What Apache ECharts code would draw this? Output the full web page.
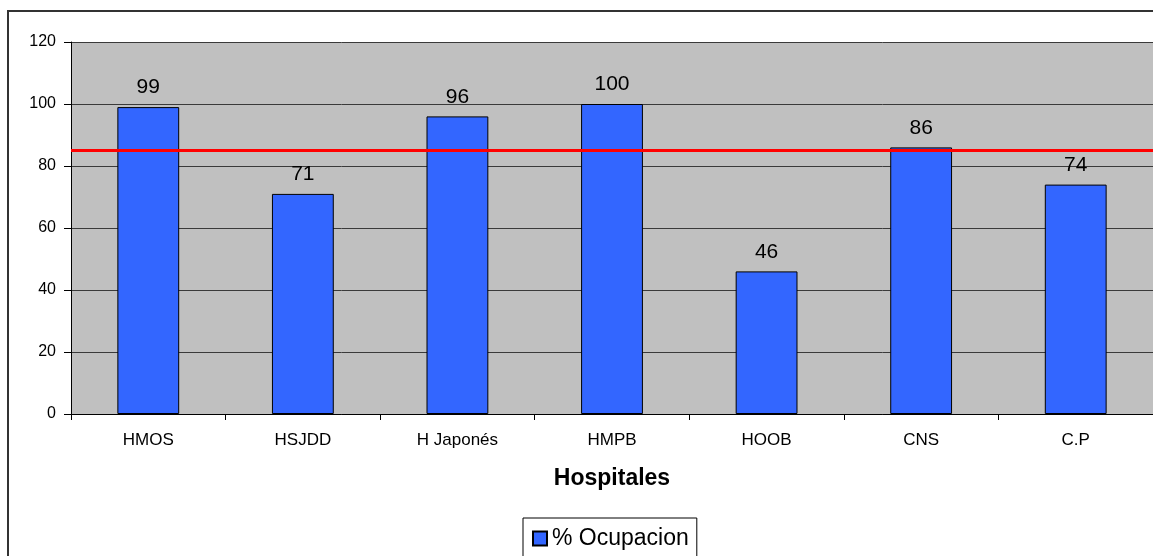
<!DOCTYPE html>
<html>
<head>
<meta charset="utf-8">
<script src="https://cdn.jsdelivr.net/npm/echarts@6/dist/echarts.min.js"></script>
<style>html,body{margin:0;padding:0;background:#fff;}#c{width:1153px;height:556px;}</style>
</head>
<body>
<div id="c"></div>
<script>
const categories = ['HMOS', 'HSJDD', 'H Japonés', 'HMPB', 'HOOB', 'CNS', 'C.P'];
const ocupacion = [99, 71, 96, 100, 46, 86, 74];
const referencia = 85;
const yTicks = [0, 20, 40, 60, 80, 100, 120];

const FONT = 'Liberation Sans, Arial, sans-serif';
const chart = echarts.init(document.getElementById('c'));
chart.setOption({
  animation: false,
  backgroundColor: '#fff',
  graphic: [{
    type: 'rect', z: -10,
    shape: { x: 8, y: 11, width: 1200, height: 600 },
    style: { fill: '#fff', stroke: '#333', lineWidth: 2 }
  }],
  grid: {
    left: 71, top: 42, width: 1087, height: 372,
    show: true, backgroundColor: '#c0c0c0', borderWidth: 0
  },
  legend: {
    top: 518, left: 523,
    data: ['% Ocupacion'],
    itemWidth: 14, itemHeight: 14,
    borderColor: '#000', borderWidth: 1, padding: [9, 8, 14, 9],
    textStyle: { fontFamily: FONT, fontSize: 23, color: '#000' },
    icon: 'rect'
  },
  xAxis: {
    type: 'category',
    data: categories,
    name: 'Hospitales',
    nameLocation: 'middle',
    nameGap: 53,
    nameTextStyle: { fontFamily: FONT, fontSize: 23, fontWeight: 'bold', color: '#000' },
    axisLine: { show: true, lineStyle: { color: '#000', width: 1 } },
    axisTick: { show: true, length: 6, lineStyle: { color: '#000' } },
    axisLabel: { fontFamily: FONT, fontSize: 17, color: '#000', margin: 18 }
  },
  yAxis: {
    type: 'value',
    min: yTicks[0], max: yTicks[yTicks.length - 1], interval: 20,
    axisLine: { show: true, lineStyle: { color: '#000', width: 1 } },
    axisTick: { show: true, length: 7, lineStyle: { color: '#000' } },
    axisLabel: { fontFamily: FONT, fontSize: 16, color: '#000', margin: 15 },
    splitLine: { show: true, lineStyle: { color: '#3a3a3a', width: 1 } }
  },
  series: [{
    name: '% Ocupacion',
    type: 'bar',
    data: ocupacion,
    barWidth: '40%',
    itemStyle: { color: '#3366ff', borderColor: '#000', borderWidth: 1 },
    label: {
      show: true, position: 'top', distance: 9,
      fontFamily: FONT, fontSize: 21, color: '#000'
    },
    markLine: {
      silent: true, symbol: 'none',
      label: { show: false },
      lineStyle: { color: '#ff0000', width: 3, type: 'solid' },
      data: [{ yAxis: referencia }]
    }
  }]
});
</script>
</body>
</html>
